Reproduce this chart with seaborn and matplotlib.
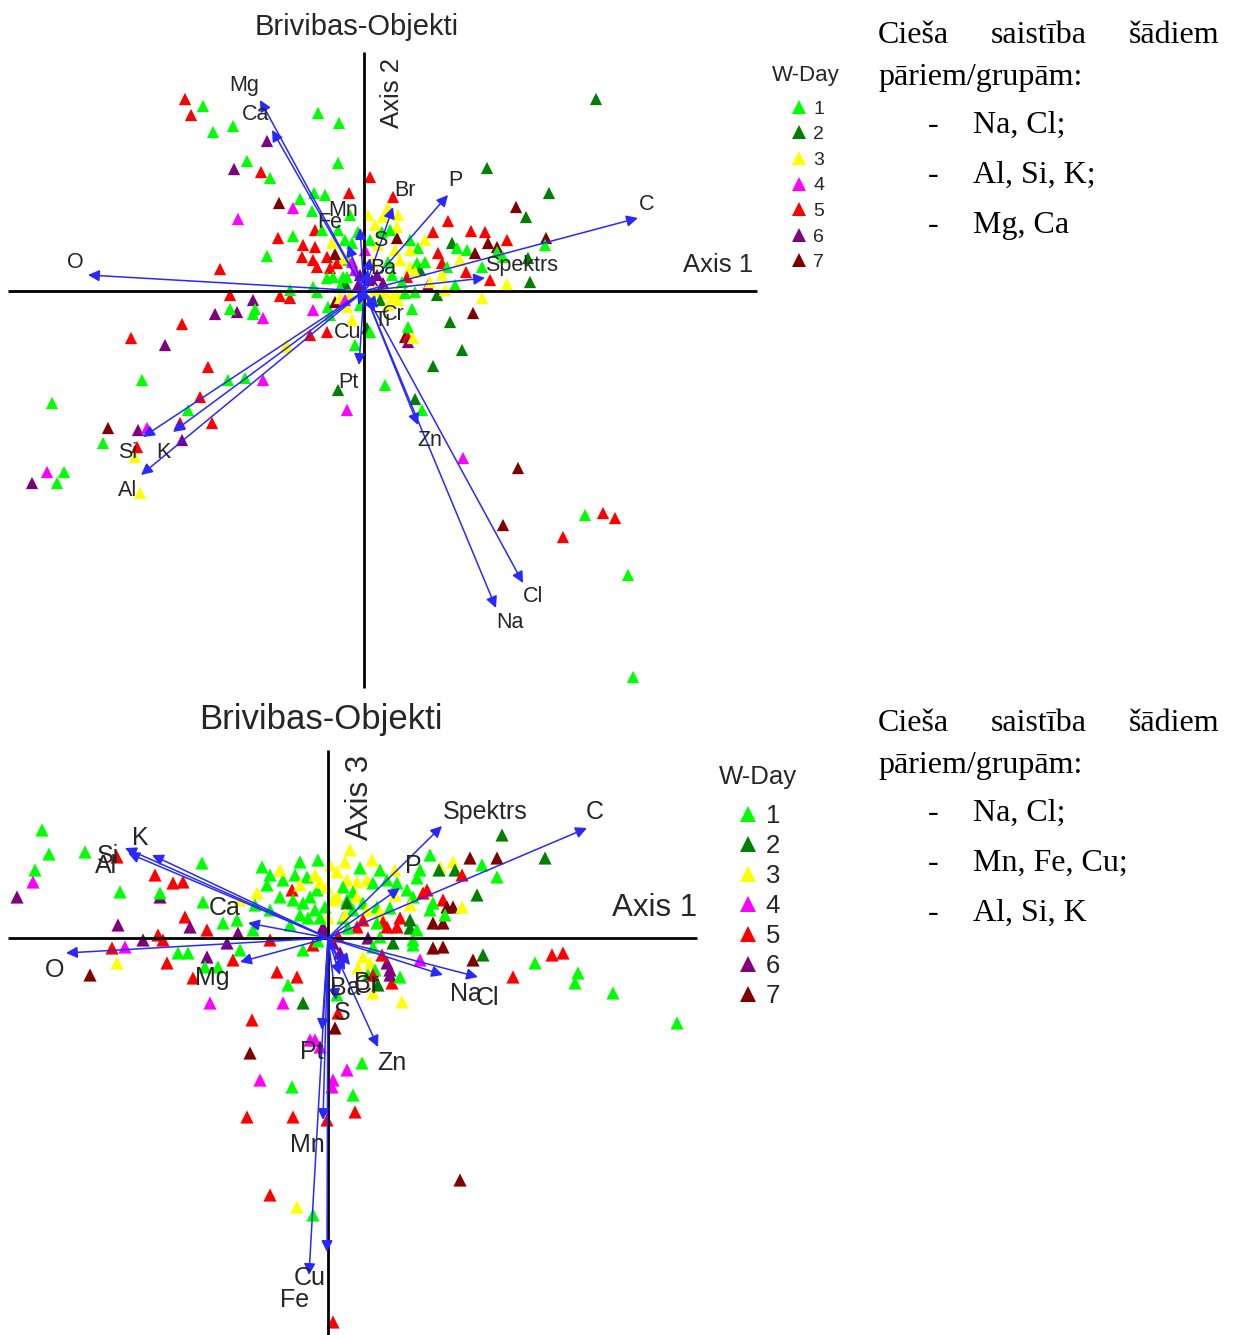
import matplotlib
matplotlib.use("Agg")
import matplotlib.pyplot as plt
import numpy as np
import pandas as pd
import seaborn as sns

sns.set_theme(style="white")
plt.rcParams['font.family'] = ['Liberation Sans', 'DejaVu Sans']

# ---------------- sample scores, Axis 1 vs Axis 2 ----------------
s12_axis1 = [
    -1.79, -1.61, -1.73, -1.51, -1.31, -0.97, -0.46, -0.25, -1.30, -1.17,
    -1.03, -0.94, -0.26, 0.06, -0.85, -0.71, -0.64, -0.50, -0.39, -0.15,
    -1.26, -0.52, -0.86, -0.71, -0.49, -0.61, -0.49, -0.97, -0.62, -0.51,
    -0.37, -0.27, -0.29, -0.47, -0.34, -1.44, -0.31, -0.21, -0.19, -1.34,
    -0.84, -0.74, -0.74, -1.11, -1.49, -1.27, -1.34, -1.09, -1.11, -1.01,
    -1.82, -0.51, -0.36, -0.29, -0.51, -2.33, -1.99, -1.56, -2.22, -0.79,
    -1.36, -1.19, -1.01, -3.12, -1.64, -1.76, -1.84, -1.52, -2.56, -2.26,
    -2.17, -2.61, -2.27, -1.82, -2.29, -3.17, -3.00, -3.07, -3.32, -2.24,
    -0.54, -0.37, 0.48, 0.03, 0.41, 0.44, 0.21, -0.26, -0.17, 0.86,
    1.09, 0.44, 0.44, 0.49, 0.98, 0.69, 0.51, 0.58, 0.99, 1.54,
    1.39, 1.99, 2.21, 2.39, 2.51, 2.64, 2.69, 2.32, 1.23, 1.85,
    0.29, 1.52, 1.62, 0.84, 0.24, 0.69, 1.07, 1.21, 1.82, 1.81,
    1.43, 0.88, 0.93, 1.03, 1.24, 1.33, 1.33, 0.33, 0.54, 0.74,
    0.78, 0.83, 1.02, 1.11, 1.39, 1.64, 1.66, 1.43, 1.26, 1.18,
    1.18, 0.73, 0.64, 0.91, 0.46, 0.43, 0.33, 0.53, 0.19, -0.32,
    -0.12, 0.06, 0.46, 0.36, 0.78, 0.19, 0.13, 0.28, -0.24, -0.37,
    -0.47, -0.17, -0.17, 0.33, 0.29, -0.77, 0.06, -0.16, -0.09, -0.04,
    0.08, 0.11, 0.21, -0.14, -0.24, 0.34, 0.41, 0.51, 0.16, -0.04,
    0.08, 0.01, 0.11, 0.26, 0.61, 0.56, -0.19, -0.34, -0.12, -0.09,
    -0.19, -0.06, 0.04, 0.46, 0.31, 0.24, 0.38, 0.51, 0.61, 0.66,
    0.81, 0.14, 0.18, -0.12, -0.06, 0.03, 0.08, 0.24, -0.19, -0.26,
    -0.14, -0.42, 0.34, 0.96,
]
s12_axis2 = [
    1.92, 1.85, 1.76, 1.59, 1.65, 1.50, 1.78, 1.68, 1.22, 1.30,
    1.19, 1.13, 1.28, 1.14, 0.88, 0.83, 0.92, 0.98, 0.96, 0.98,
    0.72, 0.80, 0.53, 0.55, 0.61, 0.46, 0.44, 0.35, 0.34, 0.31,
    0.34, 0.28, 0.37, 0.24, 0.23, 0.22, 0.14, 0.14, 0.08, -0.04,
    -0.05, -0.07, 0.01, -0.09, -0.23, -0.21, -0.18, -0.18, -0.23, -0.27,
    -0.33, -0.19, -0.16, -0.11, 0.04, -0.47, -0.54, -0.76, -0.89, -0.56,
    -0.89, -0.87, -0.89, -1.12, -1.06, -1.19, -1.32, -1.32, -1.37, -1.39,
    -1.37, -1.52, -1.56, -1.49, -1.66, -1.81, -1.81, -1.92, -1.92, -2.02,
    -0.44, -0.41, -0.18, -0.37, -0.46, -0.46, -0.94, -0.99, -1.19, -0.31,
    -0.22, -0.36, -0.51, -0.47, -0.59, -0.75, -1.08, -1.19, -1.67, -1.77,
    -2.34, -2.46, -2.24, -2.22, -2.27, -2.84, -3.86, 1.92, 1.23, 0.98,
    0.94, 0.84, 0.74, 0.70, 0.83, 0.59, 0.60, 0.59, 0.53, 0.46,
    0.51, 0.48, 0.43, 0.41, 0.48, 0.44, 0.39, 0.53, 0.43, 0.38,
    0.28, 0.24, 0.19, 0.38, 0.34, 0.33, 0.09, 0.07, 0.11, 0.24,
    -0.07, -0.04, 0.06, 0.06, 0.24, 0.14, 0.64, 0.28, 0.74, 0.48,
    0.48, 0.51, 0.41, 0.31, 0.16, 0.08, 0.16, 0.16, 0.04, 0.13,
    -0.01, 0.14, -0.16, -0.01, -0.06, -0.54, -0.41, 0.31, 0.21, 0.16,
    0.11, 0.01, -0.02, -0.04, -0.07, -0.09, -0.02, -0.01, -0.09, -0.14,
    0.29, 0.41, 0.66, 0.61, 0.51, 0.21, -0.09, -0.24, -0.29, -0.54,
    0.33, 0.59, 0.76, 0.51, 0.41, 0.29, 0.09, 0.19, 0.29, 0.09,
    0.01, 0.46, 0.59, 0.29, 0.06, 0.14, -0.07, -0.14, 0.51, 0.61,
    0.76, 0.61, 0.76, 0.31,
]
s12_day = [
    5, 1, 5, 1, 1, 6, 1, 1, 6, 1,
    5, 1, 1, 5, 7, 4, 1, 1, 1, 5,
    4, 1, 5, 1, 5, 5, 5, 1, 5, 5,
    5, 5, 7, 5, 5, 5, 1, 1, 2, 5,
    5, 5, 1, 6, 6, 6, 1, 1, 1, 4,
    5, 4, 1, 7, 1, 5, 6, 5, 1, 3,
    1, 1, 4, 1, 5, 1, 5, 5, 7, 6,
    4, 1, 5, 6, 3, 4, 1, 1, 6, 3,
    5, 5, 1, 2, 7, 5, 1, 2, 4, 2,
    7, 1, 6, 3, 2, 2, 2, 1, 4, 7,
    7, 5, 1, 5, 5, 1, 1, 2, 2, 2,
    5, 7, 2, 5, 3, 5, 5, 5, 7, 1,
    5, 2, 1, 1, 7, 7, 1, 7, 1, 5,
    5, 1, 5, 7, 1, 2, 2, 3, 5, 1,
    3, 2, 6, 1, 3, 5, 3, 1, 3, 3,
    1, 1, 3, 3, 3, 6, 6, 1, 1, 1,
    1, 1, 3, 3, 3, 3, 1, 1, 4, 6,
    6, 3, 3, 3, 3, 3, 1, 1, 2, 1,
    3, 4, 3, 1, 3, 2, 4, 1, 3, 1,
    3, 1, 3, 1, 3, 1, 1, 3, 1, 3,
    3, 3, 1, 4, 6, 6, 3, 3, 1, 1,
    1, 1, 3, 3,
]

# ---------------- sample scores, Axis 1 vs Axis 3 ----------------
s13_axis1 = [
    -2.86, -2.79, -2.43, -2.11, -2.93, -2.95, -3.11, -1.26, -0.66, -1.73,
    -1.55, -1.45, -2.08, -1.68, -1.68, -0.61, -0.71, -0.36, -1.25, -1.43,
    -1.38, -1.21, -1.05, -0.91, -2.10, -1.85, -1.70, -1.65, -2.16, -2.03,
    -2.11, -2.38, -1.61, -1.50, -1.40, -1.21, -1.23, -1.10, -1.35, -0.95,
    -0.88, -1.01, -0.90, -0.58, -0.75, -1.18, -0.51, -0.31, -0.40, -0.45,
    -0.25, -0.76, -0.25, -0.15, -0.45, -0.33, -0.21, -0.13, -0.48, -0.35,
    -0.25, -0.18, -0.11, -0.28, -0.08, 0.09, 0.19, 0.29, 0.39, 0.44,
    0.15, 0.25, 0.45, 0.09, 0.05, 0.29, -0.01, -0.03, -0.13, 0.19,
    0.25, 0.19, 0.35, 0.49, 0.39, 0.52, 0.67, 0.59, 0.69, 1.12,
    1.25, 1.11, 1.27, 1.42, 1.69, 1.54, 1.69, 1.34, 1.74, 2.17,
    1.49, 0.89, 0.79, 0.85, 0.99, 0.95, 1.15, 1.05, 1.02, 1.19,
    1.25, 1.34, 1.05, 1.15, 1.17, 0.72, 0.62, 0.82, 0.82, 0.89,
    0.55, 0.59, 0.29, 0.35, 0.49, 0.69, 0.65, 0.85, 1.05, 1.15,
    0.40, 0.52, 1.45, 1.55, 0.92, 0.45, 0.59, 0.62, 0.35, 0.42,
    0.54, 0.47, 0.40, 0.45, 0.74, 0.64, 0.62, 0.45, 0.72, 0.50,
    0.09, 0.10, 0.07, -0.13, -0.18, 1.85, -0.05, 2.07, 2.24, 2.35,
    2.50, 2.47, 2.85, 3.49, 0.85, -0.78, -0.68, -0.36, -0.81, -0.35,
    -0.08, 0.19, 0.34, 0.05, 0.04, 0.25, 0.27, -0.01, 1.32, -0.58,
    -0.31, -0.15, 0.05, -0.05, 0.05, 0.10, -0.10, 0.15, 0.20, -0.20,
    0.00, 0.12, 0.30, -0.58, -0.48, -0.28, -0.10, 0.02, 0.17, 0.32,
    0.52, -0.28, -0.58, -0.73, -0.88, 0.17, -0.08, -0.38, 0.82, 0.67,
    0.92, 0.22, 1.02,
]
s13_axis3 = [
    1.08, 0.84, 0.86, 0.81, 0.68, 0.56, 0.41, 0.75, 0.71, 0.63,
    0.55, 0.56, 0.46, 0.41, 0.45, 0.53, 0.45, 0.48, 0.36, 0.21,
    0.11, 0.08, 0.15, 0.18, 0.13, -0.02, 0.03, -0.02, -0.10, -0.09,
    -0.25, -0.37, -0.25, -0.15, -0.15, -0.19, -0.29, -0.29, -0.40, -0.22,
    -0.12, -0.05, 0.05, -0.02, 0.08, -0.65, -0.34, -0.39, -0.47, -0.65,
    -0.65, -0.82, -0.12, -0.07, 0.58, 0.63, 0.61, 0.63, 0.41, 0.38,
    0.35, 0.41, 0.48, 0.53, 0.56, 0.66, 0.58, 0.56, 0.58, 0.78,
    0.51, 0.46, 0.55, 0.41, 0.38, 0.41, 0.51, 0.31, 0.28, 0.38,
    0.28, 0.35, 0.35, 0.31, 0.28, 0.26, 0.68, 0.58, 0.55, 0.71,
    0.76, 0.68, 0.68, 0.80, 0.80, 0.73, 0.61, 0.63, 1.03, 0.80,
    0.43, 0.60, 0.48, 0.41, 0.48, 0.45, 0.38, 0.35, 0.28, 0.31,
    0.31, 0.31, 0.15, 0.15, 0.23, 0.20, 0.30, 0.18, 0.10, 0.08,
    0.16, 0.11, 0.11, 0.18, 0.15, 0.11, -0.05, -0.07, -0.10, -0.09,
    0.00, 0.01, -0.22, -0.17, -0.22, -0.09, -0.25, -0.32, -0.19, -0.25,
    -0.17, -0.32, -0.37, -0.55, -0.64, -0.45, -0.37, -0.37, -0.39, -0.47,
    -0.57, -0.75, -0.90, -1.02, -1.02, -0.39, 0.11, -0.25, -0.17, -0.15,
    -0.35, -0.45, -0.55, -0.85, -0.02, -1.15, -1.42, -1.49, -1.79, -1.79,
    -1.09, -1.32, -1.25, -1.42, -1.49, -1.57, -1.74, -1.82, -2.42, -2.57,
    -2.69, -2.77, -3.84, 0.05, -0.05, 0.02, -0.03, 0.20, 0.10, 0.20,
    0.20, -0.15, -0.30, 0.63, 0.68, 0.76, 0.78, 0.73, 0.76, 0.70,
    0.68, 0.23, 0.28, 0.33, 0.38, 0.23, 0.20, 0.13, 0.33, 0.43,
    0.68, 0.88, 0.83,
]
s13_day = [
    1, 1, 1, 5, 1, 4, 6, 1, 1, 5,
    5, 5, 1, 6, 1, 1, 3, 5, 1, 5,
    6, 5, 1, 1, 6, 6, 5, 5, 5, 4,
    3, 7, 5, 1, 1, 6, 1, 1, 5, 5,
    1, 6, 6, 5, 1, 4, 5, 5, 1, 4,
    2, 5, 1, 5, 1, 1, 1, 3, 1, 1,
    1, 1, 1, 3, 3, 3, 3, 3, 3, 3,
    1, 1, 1, 3, 3, 3, 3, 1, 1, 1,
    1, 2, 1, 1, 3, 3, 3, 1, 1, 3,
    3, 2, 2, 7, 7, 1, 1, 5, 2, 2,
    2, 1, 1, 1, 5, 5, 5, 1, 1, 7,
    7, 3, 7, 7, 1, 5, 1, 2, 2, 1,
    5, 5, 5, 5, 1, 5, 2, 1, 7, 7,
    6, 1, 7, 2, 4, 1, 6, 6, 3, 3,
    5, 1, 1, 3, 3, 5, 6, 5, 1, 2,
    1, 5, 7, 4, 4, 5, 6, 1, 5, 5,
    1, 1, 1, 1, 1, 7, 4, 1, 5, 5,
    4, 4, 1, 4, 4, 1, 5, 5, 7, 5,
    3, 1, 5, 6, 6, 5, 1, 1, 1, 1,
    3, 6, 3, 1, 3, 1, 1, 3, 3, 1,
    1, 1, 1, 1, 3, 3, 1, 1, 3, 3,
    1, 3, 1,
]

# ---------------- variable loadings (arrows) ----------------
v12_names = ["Mg", "Ca", "O", "Fe", "Mn", "Br", "P", "C", "Spektrs", "S", "Ba",
             "Cr", "Ti", "Cu", "Pt", "Zn", "Cl", "Na", "Si", "K", "Al"]
v12_axis1 = [-1.04, -0.92, -2.76, -0.16, -0.04, 0.29, 0.84, 2.74, 1.21, 0.06, 0.04,
             0.14, 0.11, -0.06, -0.05, 0.54, 1.59, 1.32, -2.21, -1.91, -2.23]
v12_axis2 = [1.91, 1.61, 0.16, 0.46, 0.63, 0.84, 0.96, 0.73, 0.13, 0.33, 0.21,
             -0.17, -0.21, -0.14, -0.74, -1.34, -2.92, -3.17, -1.46, -1.41, -1.84]

v13_names = ["K", "Si", "Al", "Ca", "O", "Mg", "Spektrs", "C", "P", "Na", "Cl",
             "Zn", "S", "Ba", "Br", "Cr", "Pt", "Mn", "Cu", "Fe"]
v13_axis1 = [-1.76, -2.03, -2.00, -0.80, -2.62, -0.88, 1.14, 2.59, 0.72, 1.15, 1.50,
             0.50, 0.08, 0.12, 0.22, 0.17, -0.06, -0.05, -0.01, -0.19]
v13_axis3 = [0.83, 0.90, 0.85, 0.15, -0.15, -0.24, 1.12, 1.10, 0.50, -0.37, -0.39,
             -1.09, -0.62, -0.37, -0.27, -0.32, -0.92, -1.82, -3.14, -3.37]

day_levels = ["1", "2", "3", "4", "5", "6", "7"]
day_colors = ["#00ff00", "#008000", "#ffff00", "#ff00ff", "#ff0000", "#800080", "#800000"]
palette = dict(zip(day_levels, day_colors))

# label placement around the arrow tips (pixels: right, down)
lab_off_12 = {"Mg": (-16, -14), "Ca": (-16, -16), "O": (-13, -13), "Fe": (-18, -23),
              "Mn": (-17, -17), "Br": (12, -16), "P": (7, -14), "C": (9, -13),
              "Spektrs": (37, -12), "S": (10, -18), "Ba": (15, -2), "Cr": (15, 7),
              "Ti": (7, 8), "Cu": (-10, 28), "Pt": (-11, 17), "Zn": (12, 15),
              "Cl": (10, 14), "Na": (14, 15), "Si": (-15, 16), "K": (-10, 20),
              "Al": (-13, 15)}
lab_off_13 = {"K": (-12, -17), "Si": (-17, 8), "Al": (-22, 13), "Ca": (-23, -15),
              "O": (-11, 17), "Mg": (-28, 16), "Spektrs": (43, -14), "C": (8, -16),
              "P": (13, -22), "Na": (23, 19), "Cl": (10, 21), "Zn": (14, 16),
              "S": (6, 13), "Ba": (5, 13), "Br": (17, 18), "Cr": (22, 16),
              "Pt": (-10, 22), "Mn": (-16, 25), "Cu": (-17, 26), "Fe": (-14, 25)}

W, H = 1233, 1335
fig = plt.figure(figsize=(W / 100, H / 100), dpi=100)
fig.patch.set_facecolor("white")


def px_axes(left, top, right, bottom):
    return fig.add_axes([left / W, 1 - bottom / H, (right - left) / W, (bottom - top) / H])


TXT = "#262626"


def biplot(ax, xs, ys, days, xname, yname, vx, vy, vnames, offs, xspan, yspan,
           msize, labsize):
    df = pd.DataFrame({xname: xs, yname: ys, "W-Day": [str(d) for d in days]})
    sns.scatterplot(data=df, x=xname, y=yname, hue="W-Day", hue_order=day_levels,
                    palette=palette, marker="^", s=msize, linewidth=0, ax=ax,
                    zorder=2, clip_on=False)
    ax.plot(xspan, [0, 0], color="black", lw=2.0, zorder=3, solid_capstyle="butt")
    ax.plot([0, 0], yspan, color="black", lw=2.0, zorder=3, solid_capstyle="butt")
    for name, x, y in zip(vnames, vx, vy):
        ax.annotate("", xy=(x, y), xytext=(0, 0),
                    arrowprops=dict(arrowstyle="-|>", color="#2828ff", lw=1.1,
                                    shrinkA=0, shrinkB=0, mutation_scale=17),
                    zorder=4)
        dx, dy = offs[name]
        ax.annotate(name, xy=(x, y), xytext=(dx * 0.72, -dy * 0.72),
                    textcoords="offset points", ha="center", va="center",
                    fontsize=labsize, color=TXT, zorder=5)
    ax.set_xlabel("")
    ax.set_ylabel("")
    ax.axis("off")


def place_legend(ax, left, top, fs, spacing, pad, ms):
    sns.move_legend(ax, loc="upper left", bbox_to_anchor=(left / W, 1 - top / H),
                    bbox_transform=fig.transFigure, frameon=False, title="",
                    fontsize=fs, borderpad=0, borderaxespad=0,
                    handletextpad=pad, labelspacing=spacing, handlelength=1.0)
    leg = ax.get_legend()
    for t in leg.get_texts():
        t.set_color(TXT)
    for h in leg.legend_handles:
        h.set_markersize(ms)


# top biplot: Axis 1 / Axis 2
ax1 = px_axes(0, 40, 760, 690)
biplot(ax1, s12_axis1, s12_axis2, s12_day, "Axis 1", "Axis 2",
       v12_axis1, v12_axis2, v12_names, lab_off_12,
       [-3.56, 3.93], [-3.97, 2.39], 78, 15.5)
ax1.set_xlim(-3.64, 3.96)
ax1.set_ylim(-3.99, 2.51)
place_legend(ax1, 789, 100, 14, 0.41, 0.24, 10)
fig.text(806 / W, 1 - 75 / H, "W-Day", ha="center", va="center", fontsize=16, color=TXT)

fig.text(357 / W, 1 - 27 / H, "Brivibas-Objekti", ha="center", va="center",
         fontsize=21, color=TXT)
fig.text(718 / W, 1 - 265 / H, "Axis 1", ha="center", va="center", fontsize=18.5, color=TXT)
fig.text(392 / W, 1 - 93 / H, "Axis 2", ha="center", va="center", fontsize=18.5,
         rotation=90, color=TXT)

# bottom biplot: Axis 1 / Axis 3
ax2 = px_axes(0, 745, 760, 1335)
biplot(ax2, s13_axis1, s13_axis3, s13_day, "Axis 1", "Axis 3",
       v13_axis1, v13_axis3, v13_names, lab_off_13,
       [-3.20, 3.69], [-3.97, 1.88], 90, 18)
ax2.set_xlim(-3.28, 4.32)
ax2.set_ylim(-3.97, 1.93)
place_legend(ax2, 735, 804, 18.5, 0.235, 0.2, 11)
fig.text(758 / W, 1 - 777 / H, "W-Day", ha="center", va="center", fontsize=18.5, color=TXT)

fig.text(321 / W, 1 - 720 / H, "Brivibas-Objekti", ha="center", va="center",
         fontsize=25, color=TXT)
fig.text(655 / W, 1 - 908 / H, "Axis 1", ha="center", va="center", fontsize=22.5, color=TXT)
fig.text(360 / W, 1 - 797 / H, "Axis 3", ha="center", va="center", fontsize=22.5,
         rotation=90, color=TXT)

# notes on the right
SERIF = ["Liberation Serif", "DejaVu Serif"]


def note_block(top, items):
    kw = dict(fontsize=23, family=SERIF, color="black", va="baseline")
    fig.text(878 / W, 1 - (top + 43) / H, "Cieša", ha="left", **kw)
    fig.text(1039 / W, 1 - (top + 43) / H, "saistība", ha="center", **kw)
    fig.text(1219 / W, 1 - (top + 43) / H, "šādiem", ha="right", **kw)
    fig.text(878 / W, 1 - (top + 85) / H, "pāriem/grupām:", ha="left", **kw)
    for i, item in enumerate(items):
        base = top + 133 + 50 * i
        fig.text(933 / W, 1 - base / H, "-", ha="center", **kw)
        fig.text(973 / W, 1 - base / H, item, ha="left", **kw)


note_block(0, ["Na, Cl;", "Al, Si, K;", "Mg, Ca"])
note_block(688, ["Na, Cl;", "Mn, Fe, Cu;", "Al, Si, K"])

fig.savefig("out.png", dpi=100, facecolor="white")
